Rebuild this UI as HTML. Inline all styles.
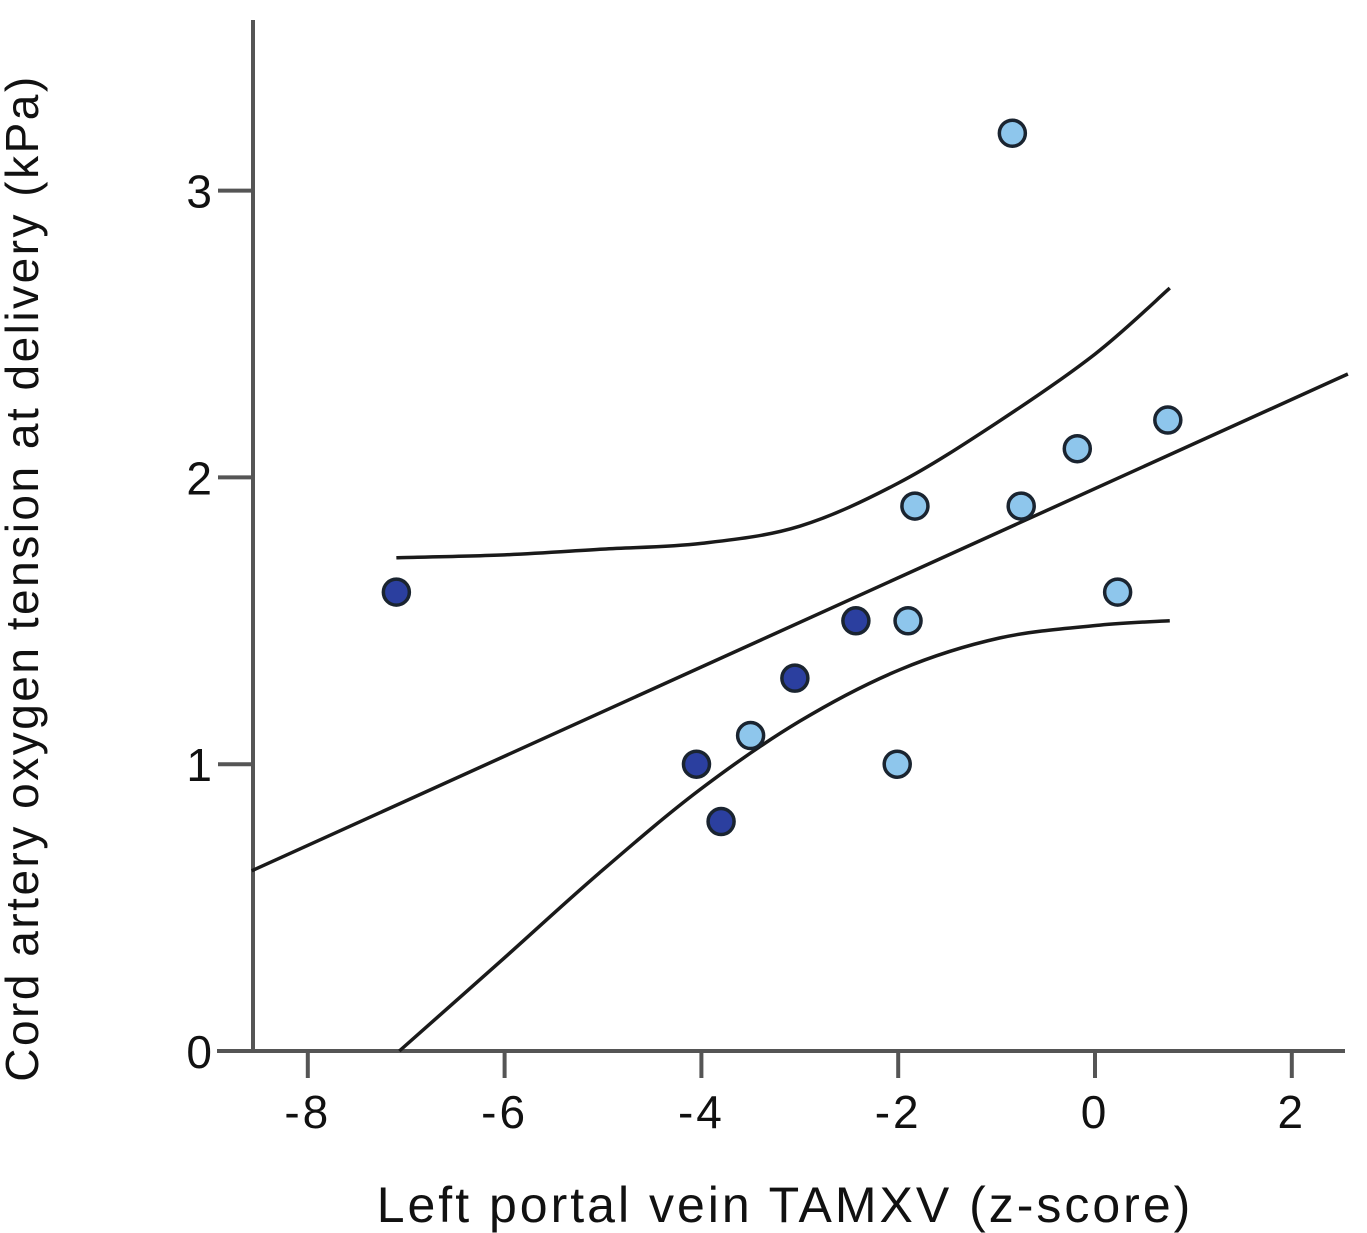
<!DOCTYPE html>
<html><head><meta charset="utf-8"><style>
html,body{margin:0;padding:0;background:#fff;}
svg{display:block;font-family:"Liberation Sans",sans-serif;}
</style></head><body>
<svg id="chart" width="1367" height="1233" viewBox="0 0 1367 1233">
<g id="axes"></g>
<g id="lines"></g>
<g id="points"></g>
<text x="785" y="1222" text-anchor="middle" font-size="50" letter-spacing="3" fill="#111">Left portal vein TAMXV (z-score)</text>
<text transform="translate(38,578) rotate(-90)" text-anchor="middle" font-size="46" letter-spacing="2.5" fill="#111">Cord artery oxygen tension at delivery (kPa)</text>
</svg>
<script>
const xTicks=[-8,-6,-4,-2,0,2];
const yTicks=[0,1,2,3];
const darkX=[-7.1,-4.05,-3.8,-3.05,-2.43];
const darkY=[1.6,1.0,0.8,1.3,1.5];
const lightX=[-0.84,0.74,-0.18,-1.83,-0.75,0.23,-1.9,-3.5,-2.01];
const lightY=[3.2,2.2,2.1,1.9,1.9,1.6,1.5,1.1,1.0];
const fitSlope=0.1555, fitIntercept=1.961, fitRange=[-8.57,2.57];
const upperX=[-7.1,-6,-5,-4,-3,-2,-1,0,0.76];
const upperY=[1.72,1.73,1.75,1.77,1.83,1.98,2.19,2.43,2.66];
const lowerX=[-7.07,-6.05,-5.04,-4.02,-3.0,-1.98,-0.97,0.05,0.76];
const lowerY=[0,0.31,0.62,0.91,1.15,1.33,1.44,1.485,1.5];
const NS='http://www.w3.org/2000/svg';
const sx=v=>1095+v*98.4;
const sy=v=>1051-v*286.8;
function mk(tag,attrs,parent){const e=document.createElementNS(NS,tag);for(const k in attrs)e.setAttribute(k,attrs[k]);parent.appendChild(e);return e;}
const axes=document.getElementById('axes');
let l=mk('line',{x1:217,y1:1051,x2:1345,y2:1051,stroke:'#555','stroke-width':4},axes);


l=mk('line',{x1:253,y1:20,x2:253,y2:1051,stroke:'#555','stroke-width':4},axes);


xTicks.forEach(t=>{
 const tk=mk('line',{x1:sx(t),y1:1051,x2:sx(t),y2:1078,stroke:'#555','stroke-width':4},axes);
 
 
 const tx=mk('text',{x:sx(t),y:1128,'text-anchor':'middle','font-size':46,'letter-spacing':3,fill:'#111'},axes);
 tx.textContent=t;
 
 
});
yTicks.forEach(t=>{
 const tk=mk('line',{x1:218,y1:sy(t),x2:253,y2:sy(t),stroke:'#555','stroke-width':4},axes);
 
 
 const tx=mk('text',{x:212,y:sy(t)+17,'text-anchor':'end','font-size':46,fill:'#111'},axes);
 tx.textContent=t;
 
 
});
const lines=document.getElementById('lines');
l=mk('line',{x1:sx(fitRange[0]),y1:sy(fitIntercept+fitSlope*fitRange[0]),x2:sx(fitRange[1]),y2:sy(fitIntercept+fitSlope*fitRange[1]),stroke:'#1a1a1a','stroke-width':3.5},lines);


function curve(xs,ys,name){
 const pts=xs.map((x,i)=>[sx(x),sy(ys[i])]);
 let d='M'+pts[0][0]+','+pts[0][1];
 for(let i=0;i<pts.length-1;i++){
  const p0=pts[Math.max(0,i-1)],p1=pts[i],p2=pts[i+1],p3=pts[Math.min(pts.length-1,i+2)];
  d+=' C'+(p1[0]+(p2[0]-p0[0])/6)+','+(p1[1]+(p2[1]-p0[1])/6)+' '+(p2[0]-(p3[0]-p1[0])/6)+','+(p2[1]-(p3[1]-p1[1])/6)+' '+p2[0]+','+p2[1];
 }
 const p=mk('path',{d:d,fill:'none',stroke:'#1a1a1a','stroke-width':3.5},lines);
 
 
}
curve(upperX,upperY,'upper-confidence-band');
curve(lowerX,lowerY,'lower-confidence-band');
const pg=document.getElementById('points');
darkX.forEach((x,i)=>{
 const c=mk('circle',{cx:sx(x),cy:sy(darkY[i]),r:13,fill:'#2b3f9f',stroke:'#1a2430','stroke-width':3.5},pg);
 
 
});
lightX.forEach((x,i)=>{
 const c=mk('circle',{cx:sx(x),cy:sy(lightY[i]),r:13,fill:'#8ec6ec',stroke:'#1a2430','stroke-width':3.5},pg);
 
 
});
</script>
</body></html>
